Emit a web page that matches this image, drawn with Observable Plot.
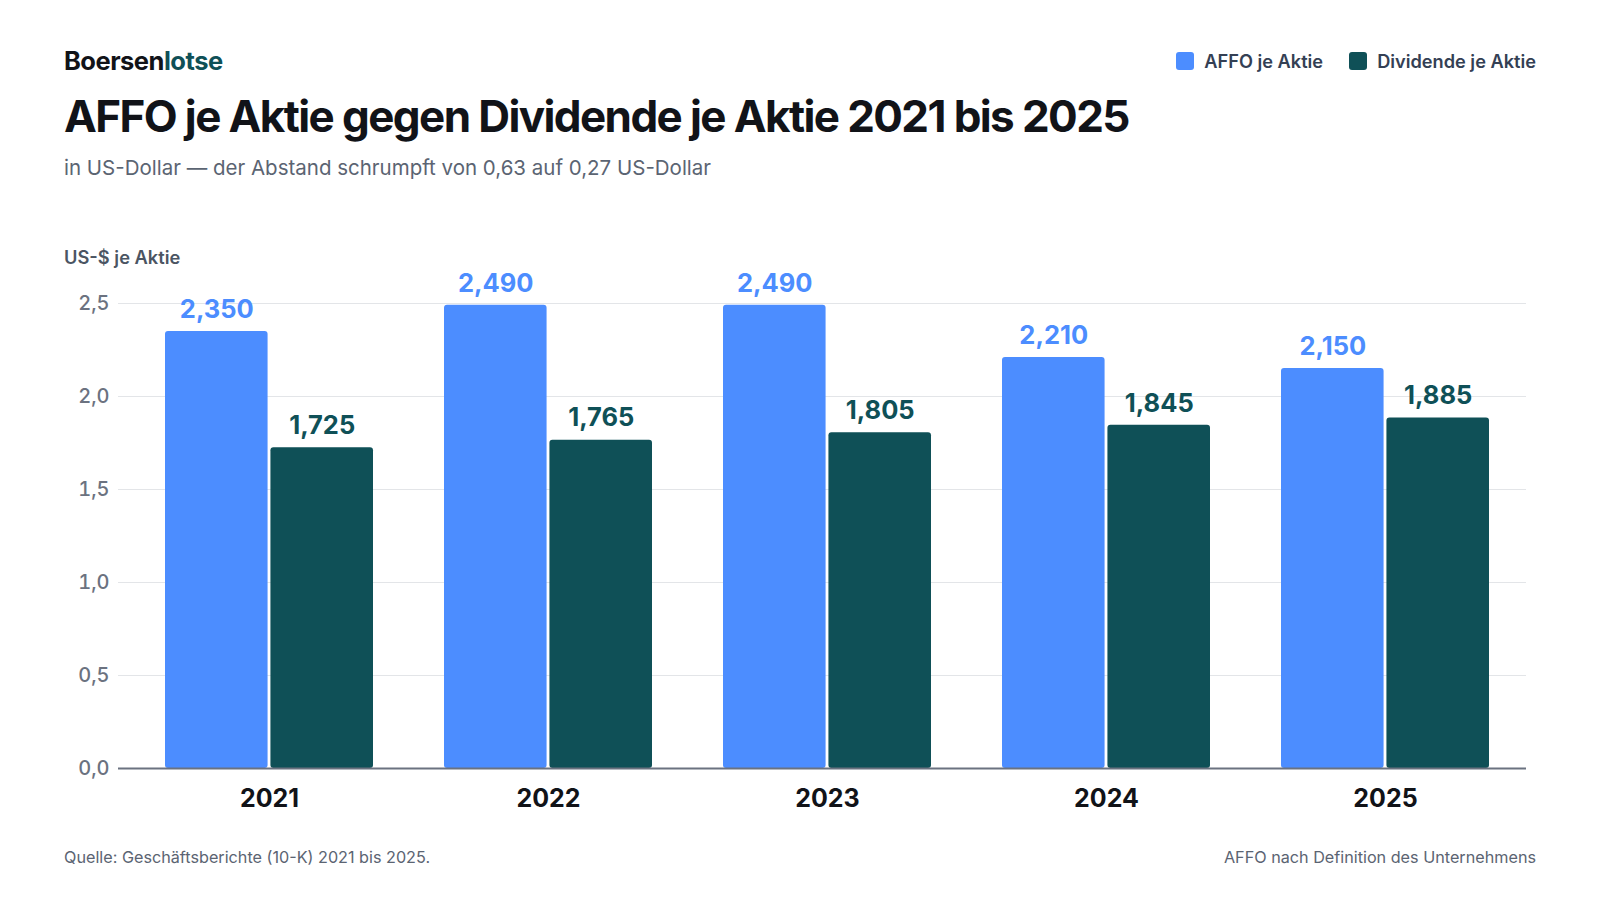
<!DOCTYPE html>
<html><head><meta charset="utf-8">
<script src="https://cdn.jsdelivr.net/npm/d3@7"></script>
<script src="https://cdn.jsdelivr.net/npm/@observablehq/plot@0.6"></script>
<style>
html,body{margin:0;padding:0;background:#fff}
body{width:1600px;height:900px;position:relative;overflow:hidden;font-family:Inter,"Noto Sans",sans-serif}
.abs{position:absolute;white-space:nowrap}
#brand{left:64px;top:46px;font-size:25.5px;font-weight:700;color:#111318;letter-spacing:-0.5px;line-height:30px}
#brand span{color:#0f5057}
#title{left:64px;top:88px;font-size:44px;font-weight:700;color:#111318;letter-spacing:-1.6px;line-height:56px}
#subtitle{left:64px;top:154px;font-size:20.5px;font-weight:400;color:#5b6472;line-height:28px}
#legend{right:64px;top:48px;display:flex;gap:26px;font-size:18.2px;font-weight:600;color:#344054;line-height:26px}
#legend .item{display:flex;align-items:center;gap:10px}
#legend .sw{width:18px;height:18px;border-radius:3px;display:inline-block}
#ylab{left:64px;top:245px;font-size:18.3px;font-weight:600;color:#4b5563;line-height:24px}
#chart{left:64px;top:240px}
#src{left:64px;top:846px;font-size:16.2px;color:#5b6472;line-height:22px}
#note{right:64px;top:846px;font-size:16.2px;color:#5b6472;line-height:22px}
</style></head><body>
<div id="brand" class="abs">Boersen<span>lotse</span></div>
<div id="title" class="abs">AFFO je Aktie gegen Dividende je Aktie 2021 bis 2025</div>
<div id="subtitle" class="abs">in US-Dollar — der Abstand schrumpft von 0,63 auf 0,27 US-Dollar</div>
<div id="legend" class="abs"></div>
<div id="ylab" class="abs">US-$ je Aktie</div>
<div id="chart" class="abs"></div>
<div id="src" class="abs">Quelle: Geschäftsberichte (10-K) 2021 bis 2025.</div>
<div id="note" class="abs">AFFO nach Definition des Unternehmens</div>
<script>
const years = ["2021", "2022", "2023", "2024", "2025"];
const affo = [2.35, 2.49, 2.49, 2.21, 2.15];
const dividend = [1.725, 1.765, 1.805, 1.845, 1.885];
const seriesNames = ["AFFO je Aktie", "Dividende je Aktie"];
const seriesColors = ["#4c8dff", "#0f5057"];
const yTicks = [0, 0.5, 1.0, 1.5, 2.0, 2.5];

const de = d3.formatLocale({decimal: ",", thousands: ".", grouping: [3], currency: ["", " $"]});
const fmt3 = de.format(".3f");
const fmt1 = de.format(".1f");

const affoData = years.map((year, i) => ({year, value: affo[i], series: seriesNames[0]}));
const divData = years.map((year, i) => ({year, value: dividend[i], series: seriesNames[1]}));

// legend
const legend = document.getElementById("legend");
seriesNames.forEach((name, i) => {
  const it = document.createElement("div");
  it.className = "item";
  it.innerHTML = `<span class="sw" style="background:${seriesColors[i]}"></span><span>${name}</span>`;
  legend.appendChild(it);
});

const W = 1472, H = 578;
const pad = 0.255;
const halfGap = 1.2;
const halfBand = (1 - pad) * ((W - 54 - 10 - 9) / (years.length)) / 2;
const barShift = (halfBand + halfGap) / 2;

const chart = Plot.plot({
  width: W,
  height: H,
  marginLeft: 54,
  marginRight: 10,
  marginTop: 63,
  marginBottom: 50,
  style: {fontFamily: "Inter, sans-serif", overflow: "visible", background: "transparent"},
  x: {type: "band", domain: years, paddingInner: pad, paddingOuter: pad / 2, insetLeft: 9, label: null},
  y: {domain: [0, 2.5], label: null},
  marks: [
    Plot.gridY(yTicks, {stroke: "#e3e5e8", strokeOpacity: 1, strokeWidth: 1.2}),
    Plot.axisY(yTicks, {tickSize: 0, tickPadding: 9, tickFormat: fmt1, fontSize: 20, fontWeight: 500, fill: "#6b7280", label: null}),
    Plot.axisX({tickSize: 0, tickPadding: 21, fontSize: 25, fontWeight: 700, fill: "#111318", label: null}),
    Plot.barY(affoData, {x: "year", y: "value", fill: seriesColors[0], insetRight: halfBand + halfGap, rx: 3}),
    Plot.barY(divData, {x: "year", y: "value", fill: seriesColors[1], insetLeft: halfBand + halfGap, rx: 3}),
    Plot.ruleY([0], {stroke: "#6b7280", strokeWidth: 2}),
    Plot.text(affoData, {x: "year", y: "value", text: d => fmt3(d.value), dx: -barShift, dy: -22, fill: seriesColors[0], fontSize: 25.5, fontWeight: 700}),
    Plot.text(divData, {x: "year", y: "value", text: d => fmt3(d.value), dx: barShift, dy: -22, fill: seriesColors[1], fontSize: 25.5, fontWeight: 700})
  ]
});
document.getElementById("chart").appendChild(chart);
</script>
</body></html>
